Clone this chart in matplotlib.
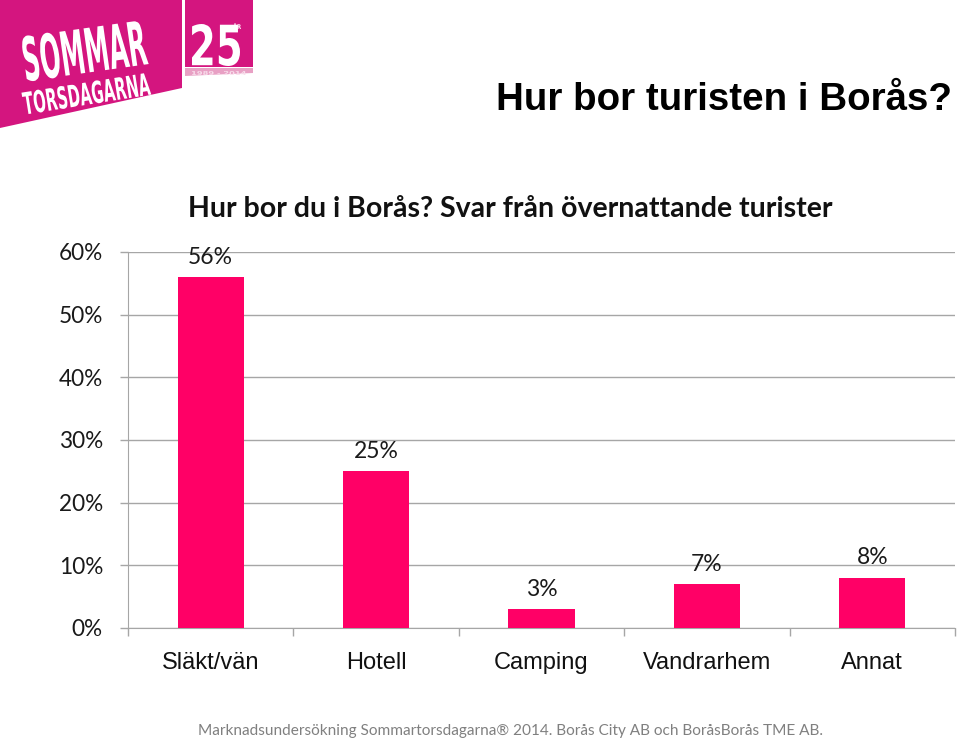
import numpy as np
import matplotlib
matplotlib.use("Agg")
import matplotlib.pyplot as plt
from matplotlib.patches import Polygon, PathPatch
from matplotlib.textpath import TextPath
from matplotlib.font_manager import FontProperties
from matplotlib.transforms import Affine2D

categories = ["Släkt/vän", "Hotell", "Camping", "Vandrarhem", "Annat"]
values = [0.56, 0.25, 0.03, 0.07, 0.08]
value_labels = ["56%", "25%", "3%", "7%", "8%"]
yticks = [0.0, 0.1, 0.2, 0.3, 0.4, 0.5, 0.6]
ytick_labels = ["0%", "10%", "20%", "30%", "40%", "50%", "60%"]

title = "Hur bor turisten i Borås?"
subtitle = "Hur bor du i Borås? Svar från övernattande turister"
footer = "Marknadsundersökning Sommartorsdagarna® 2014. Borås City AB och BoråsBorås TME AB."

BAR = "#FF0066"
LOGO = "#D4157F"
CAL = ["Lato", "DejaVu Sans"]
ARI = ["Liberation Sans", "DejaVu Sans"]

W, H = 960, 742
fig = plt.figure(figsize=(W / 100, H / 100), dpi=100)


def fx(x):
    return x / W


def fy(y):
    return 1 - y / H


# chart
ax = fig.add_axes([fx(128), fy(628), fx(955) - fx(128), fy(252) - fy(628)])
x = np.arange(len(categories))
ax.bar(x, values, width=0.4, color=BAR, zorder=3)
ax.set_xlim(-0.5, len(categories) - 0.5)
ax.set_ylim(0, 0.6)
ax.set_yticks(yticks)
ax.set_yticklabels(ytick_labels, fontsize=16.3, family=CAL, color="#1a1a1a")
ax.grid(axis="y", color="#a6a6a6", linewidth=1, zorder=0)
ax.set_xticks(np.arange(len(categories) + 1) - 0.5)
ax.set_xticklabels([])
ax.tick_params(axis="x", length=6, color="#a6a6a6", width=1)
ax.tick_params(axis="y", length=6, color="#a6a6a6", width=1, pad=12)
for i, c in enumerate(categories):
    ax.text(i, -0.056, c, ha="center", va="center", fontsize=17, family=ARI, color="#111111")
for i, (v, lab) in enumerate(zip(values, value_labels)):
    ax.annotate(lab, (i, v), xytext=(0, 20), textcoords="offset pixels",
                ha="center", va="center", fontsize=16.5, family=CAL, color="#1a1a1a")
for s in ["top", "right"]:
    ax.spines[s].set_visible(False)
ax.spines["left"].set_color("#a6a6a6")
ax.spines["bottom"].set_color("#a6a6a6")

# texts
fig.text(fx(952), fy(100), title, ha="right", va="center", fontsize=27.7,
         fontweight="bold", family=ARI, color="#000000")
fig.text(fx(188), fy(209), subtitle, ha="left", va="center", fontsize=20.5,
         fontweight="bold", family=CAL, color="#111111")
fig.text(fx(198), fy(731), footer, ha="left", va="center", fontsize=11.1,
         family=CAL, color="#808080")

# logo
fig.patches.append(Polygon([(fx(0), fy(0)), (fx(182), fy(0)), (fx(182), fy(88)), (fx(0), fy(128))],
                           closed=True, transform=fig.transFigure, facecolor=LOGO, edgecolor="none"))
fig.patches.append(Polygon([(fx(185), fy(0)), (fx(253), fy(0)), (fx(253), fy(67)), (fx(185), fy(67))],
                           closed=True, transform=fig.transFigure, facecolor=LOGO, edgecolor="none"))
fig.patches.append(Polygon([(fx(185), fy(68)), (fx(253), fy(68)), (fx(253), fy(73)), (fx(185), fy(76))],
                           closed=True, transform=fig.transFigure, facecolor="#E8A0C4", edgecolor="none"))


def logo_text(s, x0, y0, w, h, angle, color="white"):
    tp = TextPath((0, 0), s, size=1, prop=FontProperties(family="DejaVu Sans", weight="bold"))
    ext = tp.get_extents()
    tr = (Affine2D().translate(-ext.x0, -ext.y0)
          .scale(w / ext.width / 100, h / ext.height / 100)
          .rotate_deg(angle)
          .translate(x0 / 100, (H - y0) / 100) + fig.dpi_scale_trans)
    fig.patches.append(PathPatch(tp, transform=tr, facecolor=color, edgecolor="none"))


logo_text("SOMMAR", 27, 82, 123, 46, 8)
logo_text("TORSDAGARNA", 25, 115, 128, 23, 9)
logo_text("25", 192, 66, 48, 42, 0)
logo_text("ÅR", 233, 29, 8, 6, 0)
logo_text("1989 - 2014", 192, 75, 54, 4, 0, color="#F8DDEB")

fig.savefig("out.png", dpi=100)
